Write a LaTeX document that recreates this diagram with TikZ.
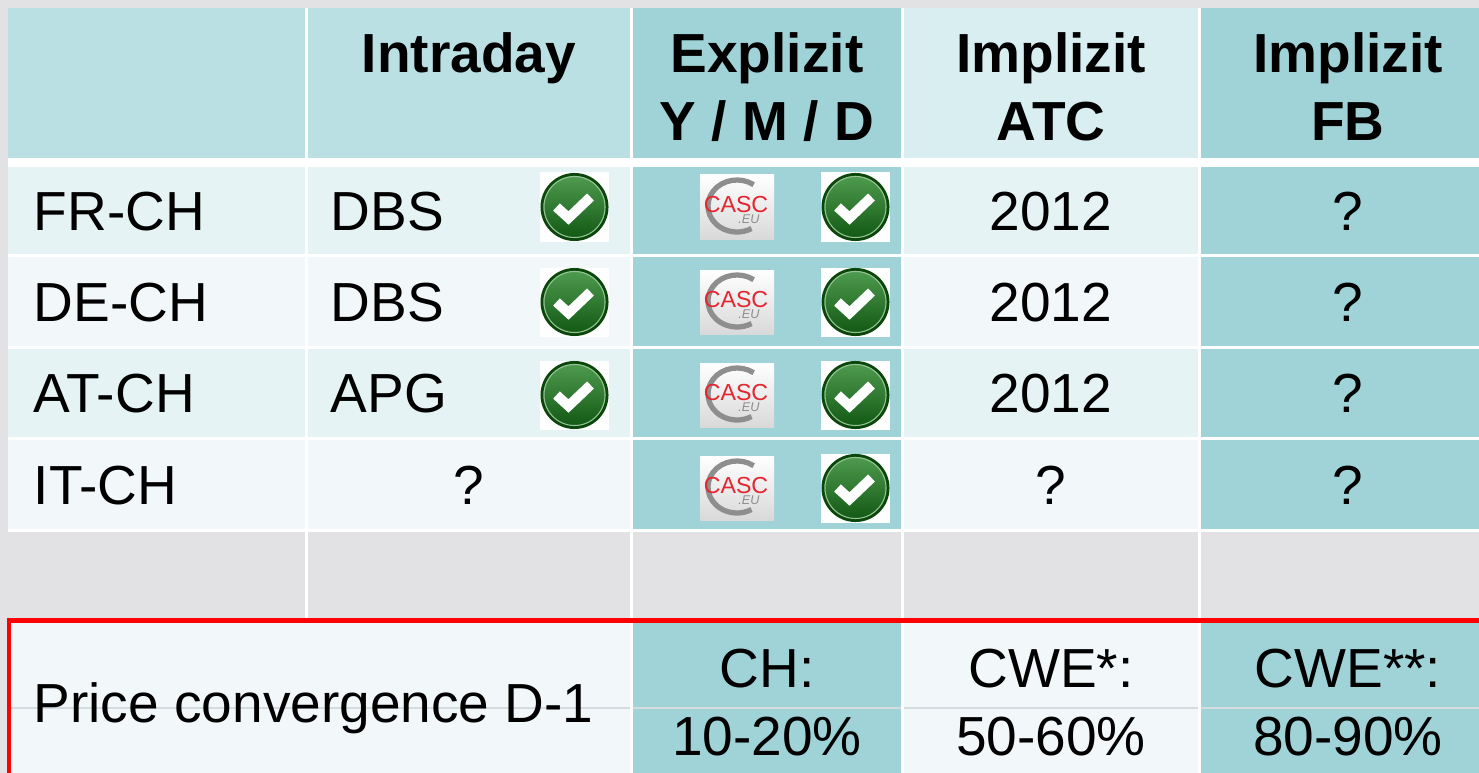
\documentclass[tikz,border=0pt]{standalone}
\usepackage{fontspec}
\setmainfont{Liberation Sans}
\usetikzlibrary{calc}
\definecolor{bggray}{HTML}{E2E2E4}
\definecolor{hdcell}{HTML}{BBE0E3}
\definecolor{hdpale}{HTML}{D9EEF0}
\definecolor{tealcell}{HTML}{9FD3D8}
\definecolor{rowodd}{HTML}{E6F3F5}
\definecolor{roweven}{HTML}{F2F8FA}
\definecolor{faintline}{HTML}{D4DCE0}
\definecolor{okdark}{HTML}{0B470B}
\definecolor{okgreen}{HTML}{17701A}
\definecolor{oklight}{HTML}{4E9A4E}
\definecolor{cascred}{HTML}{E3262F}
\definecolor{swoosh}{HTML}{8E8E8E}
\tikzset{>=latex,%
  txt/.style={anchor=base,inner sep=0pt,font=\fontsize{15.65}{19}\selectfont},
  ltxt/.style={txt,anchor=base west},
  htxt/.style={txt,font=\bfseries\fontsize{15.65}{19}\selectfont},
  okmark/.pic={
    \fill[white] (-34.5,-34.5) rectangle (34.5,34.5);
    \fill[okdark] (0,0) circle (0.34cm);
    \shade[top color=oklight,bottom color=okgreen!80!black] (0,0) circle (0.31cm);
    \draw[oklight!60!white,line width=0.3pt] (0,0) circle (0.305cm);
    \draw[white,line width=2.8pt] (-18,0) -- (-6,11) -- (16,-10);
  },
  casclogo/.pic={
    \shade[top color=white,bottom color=black!15] (-37,-32) rectangle (37,32);
    \draw[swoosh,line width=1.5pt] (0,-1) ++(55:0.29cm and 0.26cm)
      arc[start angle=55,end angle=300,x radius=0.29cm,y radius=0.26cm];
    \node[inner sep=0pt,text=cascred,font=\fontsize{6.6}{7}\selectfont] (-word) at (-1,-2) {CASC};
    \node[inner sep=0pt,text=swoosh,font=\itshape\fontsize{3.6}{4}\selectfont] (-tld) at (12,12) {.EU};
  }}
\begin{document}
\begin{tikzpicture}[x=0.01cm,y=-0.01cm]
  \useasboundingbox (0,0) rectangle (1479,773);
  \clip (0,0) rectangle (1479,773);
  \fill[bggray] (0,0) rectangle (1479,773);
  \fill[white] (8,8) rectangle (1479,773);
  \foreach \xa/\xb/\bg in {8/305/hdcell,308/630/hdcell,633/901/tealcell,904/1198/hdpale,1201/1495/tealcell}
    {\fill[\bg] (\xa,8) rectangle (\xb,158.5);};
  \foreach \ya/\yb/\bg in {167.5/253.5/rowodd,256.5/346/roweven,348.5/437/rowodd,439.5/529/roweven} {
    \fill[\bg] (8,\ya) rectangle (305,\yb);
    \fill[\bg] (308,\ya) rectangle (630,\yb);
    \fill[tealcell] (633,\ya) rectangle (901,\yb);
    \fill[\bg] (904,\ya) rectangle (1198,\yb);
    \fill[tealcell] (1201,\ya) rectangle (1495,\yb);
  };
  \foreach \xa/\xb in {8/305,308/630,633/901,904/1198,1201/1495}
    {\fill[bggray] (\xa,532) rectangle (\xb,620);};
  \fill[roweven] (8,620) rectangle (630,773);
  \fill[tealcell] (633,620) rectangle (901,773);
  \fill[roweven] (904,620) rectangle (1198,773);
  \fill[tealcell] (1201,620) rectangle (1495,773);
  \foreach \xa/\xb in {8/630,633/901,904/1198,1201/1495}
    {\draw[faintline,line width=0.35pt] (\xa,708) -- (\xb,708);};
  \draw[red,line width=1.4pt] (9,790) |- (1495,620.5);

  \node[htxt] (intraday) at (469,73) {Intraday};
  \node[htxt] (explizit) at (767,73) {Explizit};
  \node[htxt] (ymd) at (767,140) {Y / M / D};
  \node[htxt] (implatc) at (1051,73) {Implizit};
  \node[htxt] (atc) at (1051,140) {ATC};
  \node[htxt] (implfb) at (1348,73) {Implizit};
  \node[htxt] (fb) at (1348,140) {FB};

  \foreach \n/\y/\border/\id in {fr/230/FR-CH/DBS,de/321/DE-CH/DBS,at/412/AT-CH/APG} {
    \node[ltxt] (\n-name) at (33,\y) {\border};
    \node[ltxt] (\n-intra) at (330,\y) {\id};
    \node[txt] (\n-atc) at (1051,\y) {2012};
    \node[txt] (\n-fb) at (1348,\y) {?};
  };
  \node[ltxt] (it-name) at (33,504) {IT-CH};
  \node[txt] (it-intra) at (469,504) {?};
  \node[txt] (it-atc) at (1051,504) {?};
  \node[txt] (it-fb) at (1348,504) {?};

  \foreach \n/\y in {fr/207,de/302,at/395,it/488} {
    \pic (\n-casc) at (737,\y) {casclogo};
    \pic (\n-ok) at (855.5,\y) {okmark};
  };
  \foreach \n/\y in {fr/207,de/302,at/395}
    {\pic (\n-okid) at (574.5,\y) {okmark};};

  \node[ltxt] (conv) at (33,722) {Price convergence D-1};
  \node[txt] (ch) at (767,687) {CH:};
  \node[txt] (chval) at (767,755) {10-20\%};
  \node[txt] (cwe) at (1051,687) {CWE*:};
  \node[txt] (cweval) at (1051,755) {50-60\%};
  \node[txt] (cwefb) at (1348,687) {CWE**:};
  \node[txt] (cwefbval) at (1348,755) {80-90\%};
\end{tikzpicture}
\end{document}
